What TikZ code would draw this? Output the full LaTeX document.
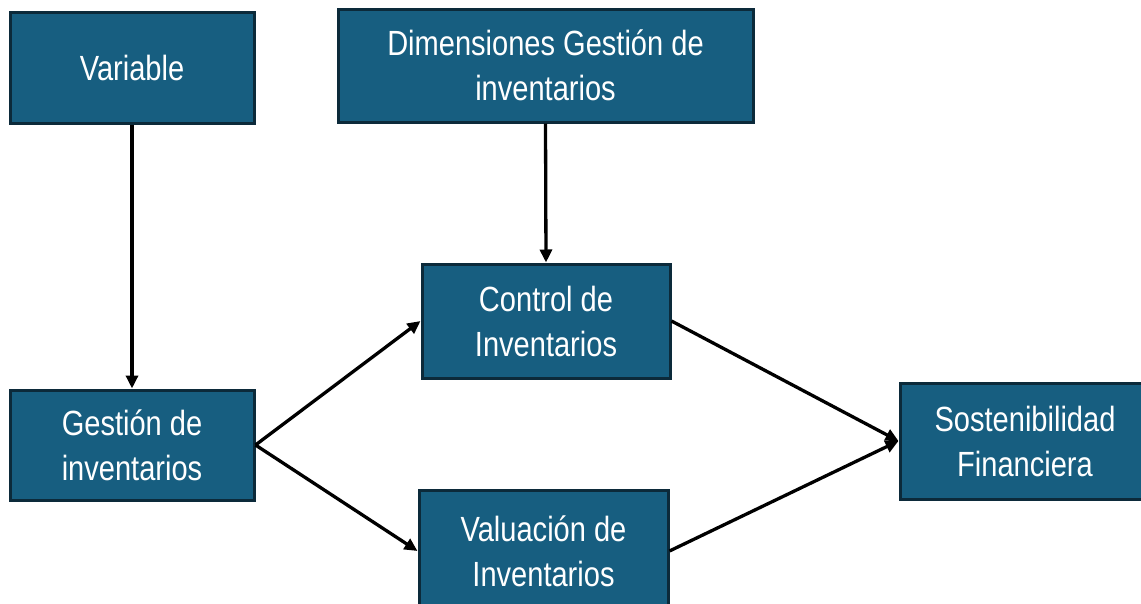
\documentclass[tikz,border=0pt]{standalone}
\usepackage{fontspec}
\setmainfont{Liberation Sans}[FakeStretch=0.83]
\usetikzlibrary{arrows.meta}
\definecolor{boxfill}{RGB}{23,94,128}
\definecolor{boxline}{RGB}{12,42,58}
\tikzset{
  box/.style={draw=boxline, line width=3pt, fill=boxfill, text=white,
    align=center, inner sep=0pt,
    font=\fontsize{35}{45}\selectfont},
  conn/.style={line width=3.3pt, draw=black, -{Triangle[length=13pt,width=12pt]}, shorten >=0pt}
}
\begin{document}
\begin{tikzpicture}[x=1pt,y=-1pt]
\useasboundingbox (0,0) rectangle (1141,603);
\clip (0,0) rectangle (1141,603);
\node[box, minimum width=244pt, minimum height=111pt] (var) at (132,67.5) {Variable};
\node[box, minimum width=415pt, minimum height=113pt] (dim) at (545.5,65.5) {Dimensiones Gestión de\\inventarios};
\node[box, minimum width=248pt, minimum height=114pt] (ctrl) at (546,321) {Control de\\Inventarios};
\node[box, minimum width=244pt, minimum height=110pt] (gest) at (132,445) {Gestión de\\inventarios};
\node[box, minimum width=250pt, minimum height=116pt] (sost) at (1025,441) {Sostenibilidad\\Financiera};
\node[box, minimum width=249pt, minimum height=122pt] (val) at (543.5,551) {Valuación de\\Inventarios};
\draw[conn] (var.south) -- (gest.north);
\draw[conn] (dim.south) -- (ctrl.north);
\draw[conn] (gest.east) -- (ctrl.west);
\draw[conn] (gest.east) -- (val.west);
\draw[conn] (ctrl.east) -- (sost.west);
\draw[conn] (val.east) -- (sost.west);
\end{tikzpicture}
\end{document}
